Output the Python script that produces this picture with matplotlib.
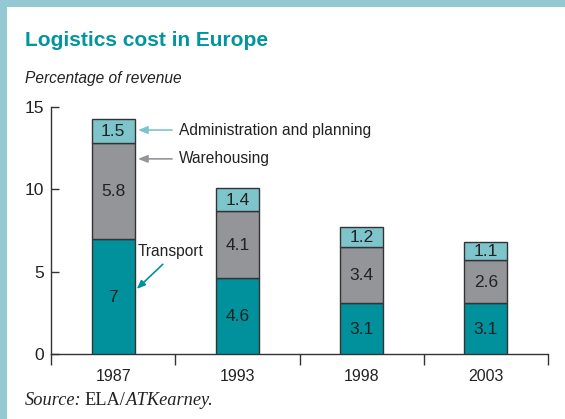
import matplotlib
matplotlib.use("Agg")
import matplotlib.pyplot as plt
import numpy as np
from matplotlib.patches import Rectangle

years = ["1987", "1993", "1998", "2003"]
transport = [7.0, 4.6, 3.1, 3.1]
warehousing = [5.8, 4.1, 3.4, 2.6]
administration = [1.5, 1.4, 1.2, 1.1]
y_ticks = [0, 5, 10, 15]

c_transport = "#00919c"
c_warehouse = "#939598"
c_admin = "#7dc4cb"
c_edge = "#333333"
c_title = "#00959f"
c_border = "#93c9d3"
c_text = "#222222"

plt.rcParams["font.family"] = ["Liberation Sans", "DejaVu Sans"]

fig = plt.figure(figsize=(5.65, 4.19), dpi=100)
fig.patch.set_facecolor("white")

# frame strips on the left and top
fig.add_artist(Rectangle((0, 0), 7 / 565, 1, transform=fig.transFigure,
                         facecolor=c_border, edgecolor="none", zorder=0))
fig.add_artist(Rectangle((0, 1 - 7 / 419), 1, 7 / 419, transform=fig.transFigure,
                         facecolor=c_border, edgecolor="none", zorder=0))

fig.text(25 / 565, 1 - 40 / 419, "Logistics cost in Europe", fontsize=15,
         fontweight="bold", color=c_title, va="center", ha="left")
fig.text(25 / 565, 1 - 78 / 419, "Percentage of revenue", fontsize=11.2,
         style="italic", color=c_text, va="center", ha="left")

ax = fig.add_axes([51 / 565, 65 / 419, 497 / 565, 247 / 419])
x = np.arange(len(years))
w = 0.345
t = np.array(transport)
wh = np.array(warehousing)
ad = np.array(administration)

kw = dict(width=w, edgecolor=c_edge, linewidth=1.0, zorder=3)
ax.bar(x, t, color=c_transport, **kw)
ax.bar(x, wh, bottom=t, color=c_warehouse, **kw)
ax.bar(x, ad, bottom=t + wh, color=c_admin, **kw)

for i in range(len(years)):
    for base, val in ((0, t[i]), (t[i], wh[i]), (t[i] + wh[i], ad[i])):
        label = f"{val:g}"
        ax.text(x[i], base + val / 2 - 0.05, label, ha="center", va="center",
                fontsize=12.5, color=c_text, zorder=4)

ax.set_xlim(-0.5, len(years) - 0.5)
ax.set_ylim(0, 15)
ax.set_yticks(y_ticks)
ax.set_xticks(x)
ax.set_xticklabels(years)
ax.set_xticks(np.arange(-0.5, len(years)), minor=True)
ax.tick_params(axis="x", which="major", length=0, labelsize=11.5, colors=c_text, pad=11)
ax.tick_params(axis="x", which="minor", length=8, width=1, direction="out", color=c_edge)
ax.tick_params(axis="y", length=6, width=1, direction="in", labelsize=12.5,
               colors=c_text, pad=5, color=c_edge)
for s in ("top", "right"):
    ax.spines[s].set_visible(False)
for s in ("left", "bottom"):
    ax.spines[s].set_color(c_edge)
    ax.spines[s].set_linewidth(1)

# series annotations with arrows
ax.annotate("Administration and planning", xy=(0.2, 13.6), xytext=(0.53, 13.6),
            fontsize=11.2, color=c_text, va="center", ha="left",
            arrowprops=dict(arrowstyle="-|>,head_length=0.5,head_width=0.2",
                            color=c_admin, lw=1.2, shrinkA=3, shrinkB=0))
ax.annotate("Warehousing", xy=(0.2, 11.85), xytext=(0.53, 11.85),
            fontsize=11.2, color=c_text, va="center", ha="left",
            arrowprops=dict(arrowstyle="-|>,head_length=0.5,head_width=0.2",
                            color=c_warehouse, lw=1.2, shrinkA=3, shrinkB=0))
ax.annotate("", xy=(0.19, 3.95), xytext=(0.4, 5.45),
            arrowprops=dict(arrowstyle="-|>,head_length=0.5,head_width=0.2",
                            color=c_transport, lw=1.2, shrinkA=0, shrinkB=0))
ax.text(0.195, 6.2, "Transport", fontsize=11.2, color=c_text, va="center", ha="left")

# source line in mixed serif styles
src_y = 1 - 400 / 419
serif = ["Liberation Serif", "DejaVu Serif"]
t1 = fig.text(25 / 565, src_y, "Source:", fontsize=13.2, style="italic",
              family=serif, color=c_text, va="center", ha="left")
fig.canvas.draw()
r = fig.canvas.get_renderer()
bb = t1.get_window_extent(r)
t2 = fig.text(bb.x1 / fig.bbox.width + 3 / 565, src_y, "ELA/", fontsize=13.2,
              family=serif, color=c_text, va="center", ha="left")
bb2 = t2.get_window_extent(r)
fig.text(bb2.x1 / fig.bbox.width, src_y, "ATKearney.", fontsize=13.2, style="italic",
         family=serif, color=c_text, va="center", ha="left")

fig.savefig("out.png", dpi=100, facecolor="white")
